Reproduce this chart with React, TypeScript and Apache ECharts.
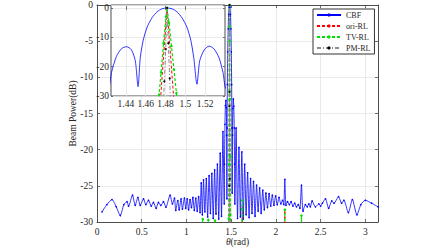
import React, { useEffect, useRef } from "react";
import * as echarts from "echarts";

// CBF beam pattern, [theta (rad), power (dB)]
const cbfCurve: number[][] = [
  [0.056, -28.6], [0.11, -27.6], [0.167, -26.9], [0.215, -27.9], [0.26, -29.1], [0.3, -27.6],
  [0.335, -27.2], [0.353, -27.8], [0.397, -26.3], [0.427, -27.7], [0.457, -26.6], [0.483, -27.7],
  [0.52, -26.8], [0.546, -27.6], [0.576, -27.0], [0.606, -27.8], [0.631, -27.3], [0.661, -28.1],
  [0.687, -27.3], [0.714, -27.7], [0.743, -27.2], [0.77, -27.95], [0.817, -26.3], [0.843, -27.5],
  [0.866, -26.7], [0.88, -28.4], [0.903, -27.05], [0.918, -28.3], [0.94, -26.8], [0.955, -28.2],
  [0.977, -26.7], [0.992, -28.1], [1.008, -26.8], [1.024, -28.3], [1.04, -26.9], [1.056, -28.0],
  [1.072, -26.6], [1.088, -28.4], [1.104, -26.7], [1.12, -28.5], [1.136, -26.5], [1.152, -28.7],
  [1.165, -24.6], [1.178, -29.0], [1.191, -24.2], [1.206, -28.6], [1.222, -24.0], [1.237, -29.3],
  [1.253, -23.6], [1.268, -28.8], [1.284, -23.3], [1.299, -29.5], [1.315, -22.8], [1.33, -28.9],
  [1.346, -22.0], [1.361, -29.6], [1.377, -20.5], [1.392, -29.2], [1.408, -17.5],
  [1.4223, -27.5], [1.4255, -22], [1.4305, -16.5], [1.4355, -13.9], [1.4405, -13.2], [1.4455, -14.2],
  [1.4495, -18], [1.4523, -26.8],
  [1.4545, -17], [1.4575, -11], [1.4615, -6.5], [1.4665, -3.3], [1.4715, -1.3], [1.4765, -0.3],
  [1.4815, 0], [1.4865, -0.3], [1.4915, -1.3], [1.4965, -3.3], [1.5015, -6.5], [1.5055, -11],
  [1.5085, -17], [1.5117, -26],
  [1.5145, -18], [1.519, -14.3], [1.524, -13.0], [1.529, -14.0], [1.534, -17.0], [1.538, -22], [1.541, -27.5],
  [1.555, -17.0], [1.571, -29.5], [1.587, -19.7], [1.603, -29.3], [1.619, -20.3], [1.635, -29.6],
  [1.651, -22.0], [1.667, -29.0], [1.684, -23.2], [1.7, -29.4], [1.717, -24.0], [1.733, -28.8],
  [1.75, -24.4], [1.767, -29.2], [1.784, -24.9], [1.801, -28.5], [1.818, -25.3], [1.835, -28.8],
  [1.853, -25.6], [1.87, -28.3], [1.888, -26.0], [1.906, -28.0], [1.924, -26.1], [1.942, -27.8],
  [1.96, -26.3], [1.978, -27.7], [1.997, -26.4],
  [2.015, -27.6], [2.035, -26.6], [2.055, -27.5], [2.075, -27.0], [2.088, -27.6], [2.1, -24.1],
  [2.112, -27.7], [2.13, -27.2], [2.15, -27.6], [2.17, -27.2], [2.19, -27.8], [2.21, -27.4],
  [2.23, -27.9], [2.25, -27.6], [2.268, -28.1], [2.286, -24.9], [2.303, -28.5], [2.33, -27.6],
  [2.35, -27.9], [2.368, -27.5], [2.385, -27.9], [2.405, -27.1], [2.442, -27.9], [2.48, -27.5],
  [2.5, -27.8], [2.52, -27.4], [2.554, -26.8], [2.59, -28.1], [2.625, -27.1], [2.65, -27.4],
  [2.7, -26.5], [2.735, -27.4], [2.76, -27.0], [2.81, -28.7], [2.855, -26.9], [2.906, -29.0],
  [2.95, -27.6], [3.0, -27.0], [3.07, -27.4], [3.1416, -27.9],
];

// ori-RL (values below -30 are off the axis)
const oriRlCurve: number[][] = [
  [1.471, -50], [1.4815, 0], [1.4925, -50],
  [1.619, -50], [1.624, -27.8], [1.629, -50],
  [2.096, -50], [2.1, -28.4], [2.104, -50],
];

// TV-RL
const tvRlCurve: number[][] = [
  [1.178, -50], [1.182, -29.6], [1.186, -50],
  [1.241, -50], [1.245, -29.7], [1.249, -50],
  [1.315, -50], [1.319, -29.8], [1.323, -50],
  [1.468, -50], [1.4735, -29.5], [1.4755, -22], [1.478, -12], [1.4805, -3], [1.4815, 0],
  [1.4835, -5], [1.486, -13], [1.4885, -21], [1.491, -29], [1.495, -45],
  [1.619, -50], [1.622, -28.2], [1.624, -27.0], [1.628, -50],
  [2.096, -50], [2.1, -28.3], [2.104, -50],
  [2.282, -50], [2.286, -29.1], [2.29, -50],
];

// PM-RL
const pmRlCurve: number[][] = [
  [1.4755, -50], [1.4788, -25], [1.4802, -14], [1.4815, 0], [1.4828, -12], [1.4842, -24], [1.4865, -50],
];

const seriesNames = ["CBF", "ori-RL", "TV-RL", "PM-RL"];
const insetXTicks = [1.44, 1.46, 1.48, 1.5, 1.52];

const FONT = "Liberation Serif";
const AXIS = "#4d4d4d";
const TEXT = "#262626";
const GRIDC = "#e4e4e4";
const BLUE = "#0000ff";
const RED = "#ff0000";
const GREEN = "#00e000";
const GRAY = "#8c8c8c";

export default function App() {
  const ref = useRef<HTMLDivElement>(null);
  useEffect(() => {
    if (!ref.current) return;
    const chart = echarts.init(ref.current, undefined, { renderer: "svg" });
    const tick = { inside: true, length: 3, lineStyle: { color: AXIS, width: 0.8 } };
    const line = { show: true, onZero: false, lineStyle: { color: AXIS, width: 1 } };
    const lab = { color: TEXT, fontFamily: FONT, fontSize: 9.5 };
    const split = { show: true, lineStyle: { color: GRIDC, width: 0.8 } };

    const mkSeries = (inset: boolean) => {
      const xi = inset ? 2 : 0;
      const yi = inset ? 2 : 0;
      const z = inset ? 5 : 2;
      return [
        {
          type: "line", name: seriesNames[0], xAxisIndex: xi, yAxisIndex: yi, z,
          data: cbfCurve, smooth: 0.25, clip: true,
          showSymbol: !inset, symbol: "circle", symbolSize: 1.6,
          lineStyle: { color: BLUE, width: 0.8 }, itemStyle: { color: BLUE },
        },
        {
          type: "line", name: seriesNames[1], xAxisIndex: xi, yAxisIndex: yi, z,
          data: oriRlCurve, clip: true, showSymbol: false, symbol: "none",
          lineStyle: { color: RED, width: 1, type: [3, 2] }, itemStyle: { color: RED },
        },
        {
          type: "line", name: seriesNames[2], xAxisIndex: xi, yAxisIndex: yi, z,
          data: tvRlCurve, clip: true, showSymbol: true, symbol: "circle", symbolSize: 2.5,
          lineStyle: { color: GREEN, width: 1.2, type: [3, 2] }, itemStyle: { color: GREEN },
        },
        {
          type: "line", name: seriesNames[3], xAxisIndex: xi, yAxisIndex: yi, z,
          data: pmRlCurve, clip: true, showSymbol: true, symbol: "circle", symbolSize: 2,
          lineStyle: { color: GRAY, width: 1, type: [4, 2, 1, 2] }, itemStyle: { color: "#000" },
        },
      ];
    };

    chart.setOption({
      animation: false,
      backgroundColor: "#fff",
      textStyle: { fontFamily: FONT },
      grid: [
        { left: 97, top: 3, width: 281, height: 221 },
        { left: 111, top: 5, width: 114, height: 91 },
      ],
      graphic: [
        {
          type: "rect", z: 3, silent: true,
          shape: { x: 111, y: 5, width: 114, height: 91 },
          style: { fill: "#fff", stroke: AXIS, lineWidth: 1 },
        },
      ],
      legend: {
        orient: "vertical", left: 313, top: 9, padding: [2, 4, 2, 3],
        itemWidth: 24, itemHeight: 4, itemGap: 3, selectedMode: false,
        backgroundColor: "#fff", borderColor: "#333", borderWidth: 1,
        textStyle: { color: TEXT, fontFamily: FONT, fontSize: 8 },
        data: seriesNames,
      },
      xAxis: [
        {
          type: "value", gridIndex: 0, position: "bottom", min: 0, max: Math.PI, interval: 0.5,
          axisLine: line, axisTick: tick, splitLine: split,
          axisLabel: { ...lab, margin: 5, showMaxLabel: false },
          name: "{i|θ}(rad)", nameLocation: "middle", nameGap: 15, nameMoveOverlap: false,
          nameTextStyle: { ...lab, rich: { i: { ...lab, fontStyle: "italic" } } },
        },
        {
          type: "value", gridIndex: 0, position: "top", min: 0, max: Math.PI, interval: 0.5,
          axisLine: line, axisTick: tick, splitLine: { show: false }, axisLabel: { show: false },
        },
        {
          type: "value", gridIndex: 1, position: "bottom", min: 1.425, max: 1.54, z: 4,
          axisLine: { show: false }, axisTick: { ...tick, length: 2, customValues: insetXTicks },
          splitLine: split,
          axisLabel: { ...lab, margin: 3, customValues: insetXTicks },
        },
        {
          type: "value", gridIndex: 1, position: "top", min: 1.425, max: 1.54, z: 4,
          axisLine: { show: false }, axisTick: { ...tick, length: 2, customValues: insetXTicks },
          splitLine: { show: false }, axisLabel: { show: false },
        },
      ],
      yAxis: [
        {
          type: "value", gridIndex: 0, position: "left", min: -30, max: 0, interval: 5,
          axisLine: line, axisTick: tick, splitLine: split,
          axisLabel: { ...lab, margin: 4 },
          name: "Beam Power(dB)", nameLocation: "middle", nameGap: 19, nameMoveOverlap: false,
          nameTextStyle: { ...lab },
        },
        {
          type: "value", gridIndex: 0, position: "right", min: -30, max: 0, interval: 5,
          axisLine: line, axisTick: tick, splitLine: { show: false }, axisLabel: { show: false },
        },
        {
          type: "value", gridIndex: 1, position: "left", min: -30, max: 1, interval: 10, z: 4,
          axisLine: { show: false }, axisTick: { ...tick, length: 2 }, splitLine: split,
          axisLabel: { ...lab, margin: 2, showMaxLabel: false },
        },
        {
          type: "value", gridIndex: 1, position: "right", min: -30, max: 1, interval: 10, z: 4,
          axisLine: { show: false }, axisTick: { ...tick, length: 2 }, splitLine: { show: false },
          axisLabel: { show: false },
        },
      ],
      series: [...mkSeries(false), ...mkSeries(true)],
    });
    return () => chart.dispose();
  }, []);
  return <div ref={ref} style={{ width: 448, height: 252, position: "absolute", left: 0, top: 0 }} />;
}
